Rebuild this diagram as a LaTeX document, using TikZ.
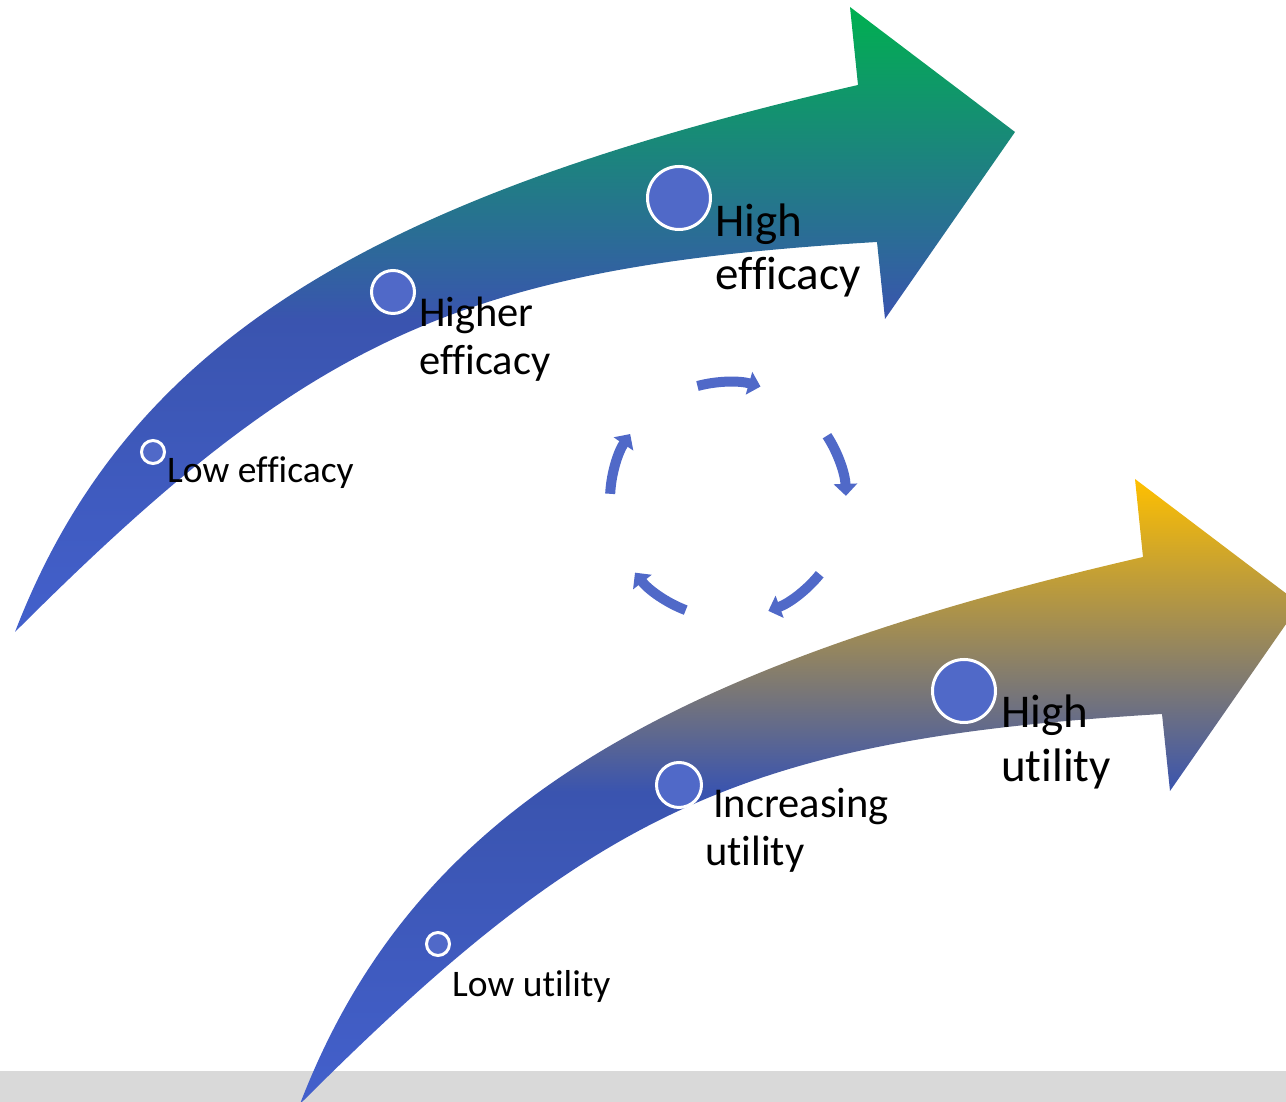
\documentclass[tikz,border=0pt]{standalone}
\usepackage{fontspec}
\setmainfont{Carlito}[Ligatures=CommonOff]
\usepackage{tikz}
\usetikzlibrary{arrows.meta}
\definecolor{MyBlue}{RGB}{80,105,200}
\definecolor{MyGreen}{RGB}{0,176,80}
\definecolor{MyGold}{RGB}{255,192,0}
\definecolor{MyMid}{RGB}{58,84,175}
\definecolor{MyLow}{RGB}{67,96,204}
\definecolor{MyGray}{RGB}{217,217,217}

\begin{document}
\begin{tikzpicture}[x=1pt, y=1pt]
			\tikzstyle{stage} = [circle, fill=MyBlue, draw=white, line width=3pt, inner sep=0pt]
			\tikzstyle{tag} = [inner sep=0pt, anchor=base west, align=left]
			\tikzstyle{cyc} = [MyBlue, line width=10pt, -{Triangle[width=23pt, length=12pt]}]
			\useasboundingbox (0,0) rectangle (1286,1102);
			\clip (0,0) rectangle (1286,1102);

			\fill[MyGray] (0,0) rectangle (1286,31);

			\foreach \dx/\dy/\tc in {0/0/MyGreen, 285/-472/MyGold}
				\shade[shift={(\dx,\dy)}, top color=\tc, bottom color=MyLow, middle color=MyMid]
					(15,470) .. controls (127,761) and (372,905) .. (858,1017)
					-- (850,1095) -- (1015,970) -- (885,783) -- (877,860)
					.. controls (460,835) and (310,765) .. cycle;

			\node[stage, minimum size=23pt] (e1) at (153,650) {};
			\node[stage, minimum size=43pt] (e2) at (393,810) {};
			\node[stage, minimum size=63pt] (e3) at (679,904) {};
			\node[stage, minimum size=23pt] (u1) at (438,158) {};
			\node[stage, minimum size=45pt] (u2) at (679,317) {};
			\node[stage, minimum size=63pt] (u3) at (964,411) {};

			\node[tag, font=\fontsize{37.5}{42}\selectfont] (e1t) at (167,619) {Low efficacy};
			\node[tag, font=\fontsize{42.5}{47.5}\selectfont] (e2t) at (419,727.5) {Higher\\efficacy};
			\node[tag, font=\fontsize{47}{53}\selectfont] (e3t) at (715,812) {High\\efficacy};
			\node[tag, font=\fontsize{37.5}{42}\selectfont] (u1t) at (452,105) {Low utility};
			\node[tag, font=\fontsize{42.5}{47.5}\selectfont] (u2t) at (705,236.5) {\hspace*{8pt}Increasing\\utility};
			\node[tag, font=\fontsize{47}{54}\selectfont] (u3t) at (1001,320) {High\\utility};

			\coordinate (hub) at (728,602);
			\foreach \i in {0,...,4}
				\draw[cyc] ([shift={(105-72*\i:118)}]hub) arc[start angle=105-72*\i, delta angle=-31, radius=118];
\end{tikzpicture}
\end{document}
